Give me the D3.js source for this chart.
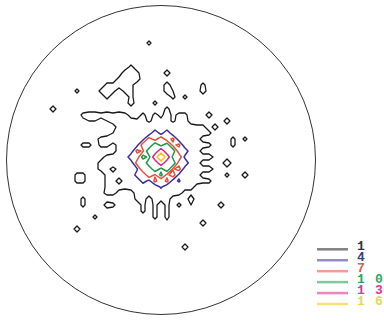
<!DOCTYPE html>
<html><head><meta charset="utf-8">
<script src="https://cdn.jsdelivr.net/npm/d3@7"></script>
<style>html,body{margin:0;padding:0;background:#fff;}svg{display:block;}</style>
</head><body>
<svg id="chart" width="384" height="321"></svg>
<script>
// contour levels (counts) and their styling
const levels = [1, 4, 7, 10, 13, 16];
const levelLabels = ["1", "4", "7", "10", "13", "16"];
const levelColors = ["#1a1a1a", "#3b2f9e", "#e8503a", "#1c9a4a", "#e0208c", "#f2c400"];
const labelColors = ["#333333", "#3a3a8c", "#e05a4a", "#2aa860", "#d63a9a", "#e0d860"];

// estimated density grid: 37 columns x 38 rows, each character = 2 x count (base 36)
const densityRows = [
"00000 00000 00000 00000 00000 00000 00000 00",
"00000 00000 00000 00300 00000 00000 00000 00",
"00000 00000 00000 00000 00000 00000 00000 00",
"00000 00000 00000 00000 00000 00000 00000 00",
"00000 00000 00000 00000 00000 00000 00000 00",
"00000 00000 00003 00000 00000 00000 00000 00",
"00000 00000 00045 30000 40000 00000 00000 00",
"00000 00000 00343 40000 00000 00000 00000 00",
"00000 00000 33433 00000 40000 03000 00000 00",
"00000 30003 43033 00000 42000 04000 00000 00",
"00000 00000 30003 00000 03030 00000 00000 00",
"00000 00000 00004 00030 00000 00000 00000 00",
"04000 00000 00000 00000 30000 00000 00000 00",
"00000 03443 43431 03031 41330 00400 00000 00",
"00000 01221 23333 34143 41431 00000 40000 00",
"00000 00000 01333 33636 36333 33040 00000 00",
"00000 00000 12333 374d5 d3733 33300 00000 00",
"00000 00013 34333 76hbj ag473 31000 03030 00",
"00000 03303 31337 6iepi ocg37 33300 03000 00",
"00000 00000 01334 gdplv load3 31000 00000 00",
"00000 00001 3333d anivy vij67 33410 00000 00",
"00000 00013 34334 heplv lpbe3 31000 60000 00",
"00000 00013 31337 7kfpi pdh47 33410 00000 00",
"00000 33000 33333 b8jdm ci673 31000 30040 00",
"00000 33000 33133 3b6g9 g5933 33300 00000 00",
"00000 00000 33333 33739 37333 10000 00000 00",
"00000 00001 33101 33334 33311 00000 00000 00",
"00000 03000 00000 33133 31004 00000 00000 00",
"00000 03000 43000 03030 30302 00004 00000 00",
"00000 00000 00000 03030 30000 00000 00000 00",
"00000 00030 00000 00030 30000 00000 00000 00",
"00000 00000 00000 00000 10000 04000 00000 00",
"00000 40000 00000 00000 00000 00000 00000 00",
"00000 00000 00000 00000 00000 00000 00000 00",
"00000 00000 00000 00000 00000 00000 00000 00",
"00000 00000 00000 00000 00040 00000 00000 00",
"00000 00000 00000 00000 00000 00000 00000 00",
"00000 00000 00000 00000 00000 00000 00000 00"
];

const svg = d3.select("#chart");
const cols = 37, rows = densityRows.length;
const values = [];
densityRows.forEach(r => {
  const s = r.replace(/ /g, "");
  for (let i = 0; i < cols; i++) values.push(parseInt(s[i] || "0", 36) / 2);
});

// net outline
svg.append("circle").attr("cx", 161).attr("cy", 160).attr("r", 154.5)
  .attr("fill", "none").attr("stroke", "#333").attr("stroke-width", 1);

const x = d3.scaleLinear().domain([0, cols - 1]).range([47, 47 + 6 * (cols - 1)]);
const y = d3.scaleLinear().domain([0, rows - 1]).range([37, 37 + 6 * (rows - 1)]);
const path = d3.geoPath(d3.geoTransform({
  point(px, py) { this.stream.point(x(px - 0.5), y(py - 0.5)); }
}));

const contours = d3.contours().size([cols, rows]).thresholds(levels)(values);
svg.append("g").selectAll("path").data(contours).join("path")
  .attr("d", path)
  .attr("fill", "none")
  .attr("stroke", (d, i) => levelColors[i])
  .attr("stroke-width", (d, i) => i === 0 ? 1.3 : 1.5)
  .attr("stroke-linejoin", "round");

// legend
const ly = d3.scaleLinear().domain([0, levels.length - 1]).range([249.3, 304]);
const lg = svg.append("g");
levels.forEach((lv, i) => {
  lg.append("line").attr("x1", 317).attr("x2", 348).attr("y1", ly(i)).attr("y2", ly(i))
    .attr("stroke", levelColors[i]).attr("stroke-opacity", 0.55).attr("stroke-width", 2.5);
  const t = lg.append("text").attr("y", ly(i) + 1)
    .attr("font-family", "Liberation Mono, DejaVu Sans Mono, monospace")
    .attr("font-weight", "bold").attr("font-size", 13)
    .attr("fill", labelColors[i]);
  levelLabels[i].split("").forEach((ch, k) => {
    t.append("tspan").attr("x", 357 + k * 18).text(ch);
  });
});
</script>
</body></html>
